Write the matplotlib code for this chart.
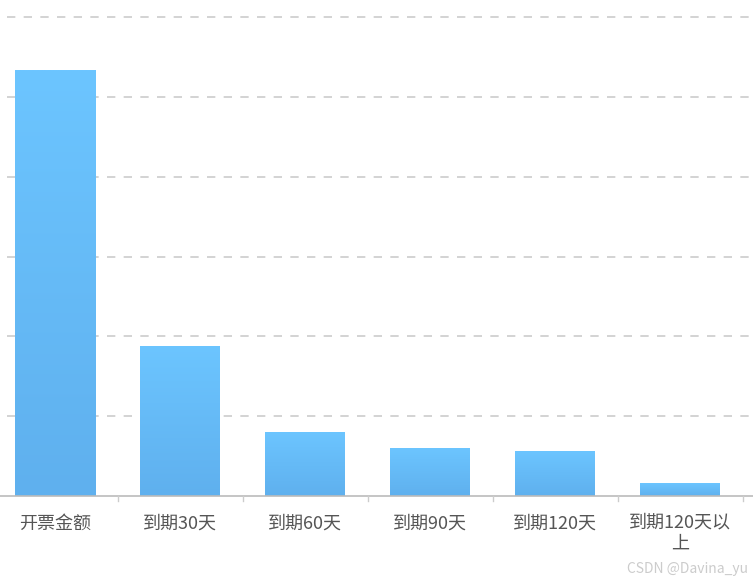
import numpy as np
import matplotlib.pyplot as plt
from matplotlib.colors import LinearSegmentedColormap

plt.rcParams['font.family'] = ['Noto Sans CJK SC', 'DejaVu Sans']

# data
categories = ['开票金额', '到期30天', '到期60天', '到期90天', '到期120天', '到期120天以\n上']
values = [5.33, 1.88, 0.80, 0.60, 0.56, 0.16]
grid_levels = [1, 2, 3, 4, 5, 6]

W, H = 753, 582
fig = plt.figure(figsize=(W / 100, H / 100), dpi=100)

# axes: category 0 centred at x=55px, spacing 125px, baseline y=496, top grid y=17
left_px = -7.5
right_px = W
ax = fig.add_axes([left_px / W, (H - 496) / H, (right_px - left_px) / W, (496 - 10) / H])
xmax = -0.5 + (right_px - left_px) / 125
ax.set_xlim(-0.5, xmax)
ymax = 6 * (496 - 10) / (496 - 17)
ax.set_ylim(0, ymax)
ax.axis('off')
px = ymax / 486  # data units per pixel (vertical)

# dashed grid lines
gx0 = -0.5 + (7 - left_px) / 125
ax.hlines(grid_levels, gx0, xmax, colors='#cccccc', linestyles=(0, (5, 5)), linewidth=1.2, zorder=1)

# baseline and ticks
ax.axhline(0, color='#bbbbbb', linewidth=1.2, zorder=3, clip_on=False)
for i in range(len(categories)):
    ax.plot([i + 0.5, i + 0.5], [0, -5 * px], color='#cccccc', linewidth=1, clip_on=False, zorder=3)

# gradient bars
cmap = LinearSegmentedColormap.from_list('bar', ['#5fb0ee', '#6cc5ff'])
grad = np.linspace(0, 1, 256).reshape(-1, 1)
bw = 0.64
bars = ax.bar(range(len(values)), values, width=bw, color='none', zorder=2)
for b in bars:
    x0 = b.get_x()
    h = b.get_height()
    im = ax.imshow(grad, cmap=cmap, origin='lower', aspect='auto',
                   extent=[x0, x0 + bw, 0, h], zorder=2)
    im.set_clip_path(b)

# category labels
for i, c in enumerate(categories):
    if '\n' in c:
        ax.text(i, -17 * px, c, ha='center', va='top', fontsize=13,
                color='#555555', linespacing=1.25)
    else:
        ax.text(i, -28 * px, c, ha='center', va='center', fontsize=13, color='#555555')

fig.text(0.993, 0.01, 'CSDN @Davina_yu', ha='right', va='bottom', fontsize=10, color='#cccccc')

fig.savefig('out.png', dpi=100)
